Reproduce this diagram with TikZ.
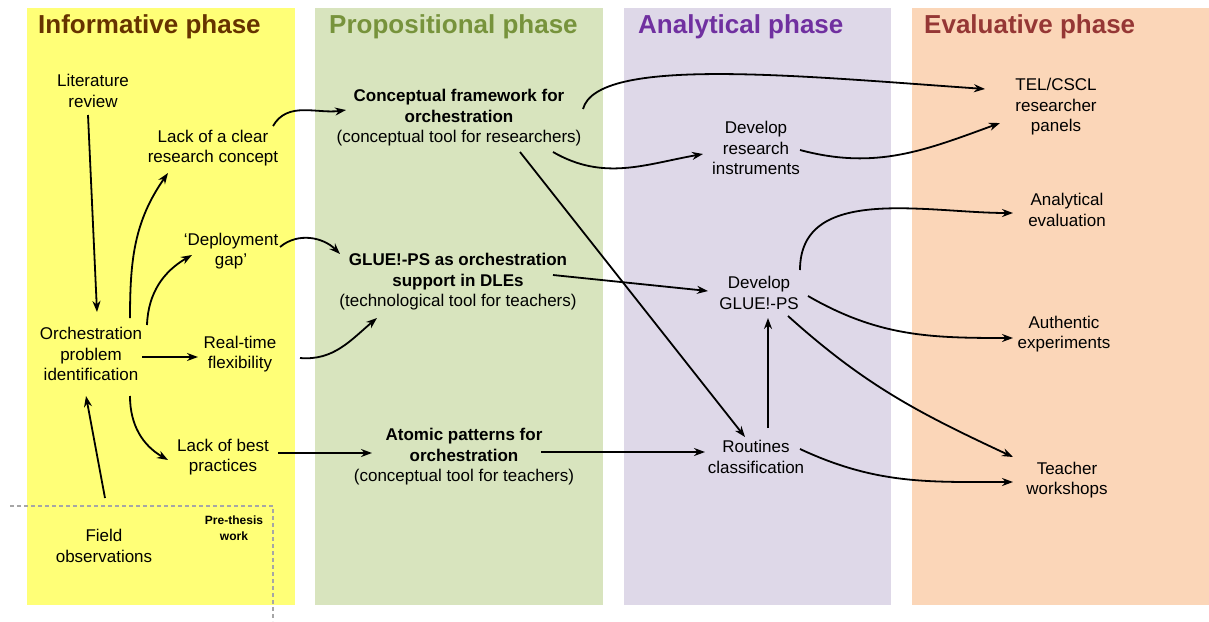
\documentclass[tikz,border=0pt]{standalone}
\usepackage{fontspec}
\setmainfont{Liberation Sans}
\usetikzlibrary{arrows.meta}
\definecolor{infobg}{RGB}{255,255,119}
\definecolor{propbg}{RGB}{216,228,190}
\definecolor{analbg}{RGB}{222,216,232}
\definecolor{evalbg}{RGB}{251,214,184}
\definecolor{infotitle}{RGB}{102,51,0}
\definecolor{proptitle}{RGB}{119,147,60}
\definecolor{analtitle}{RGB}{112,48,160}
\definecolor{evaltitle}{RGB}{149,55,53}
\begin{document}
\begin{tikzpicture}[x=1pt,y=-1pt,
  txt/.style={align=center,inner sep=0pt,font=\fontsize{17}{20.5}\selectfont},
  small/.style={align=center,inner sep=0pt,font=\fontsize{12}{16}\selectfont\bfseries},
  phase/.style={anchor=west,inner sep=0pt,font=\fontsize{26}{30}\selectfont\bfseries},
  arr/.style={line width=1.8pt,-{Stealth[length=11pt,width=8pt]}},
  sep/.style={gray!70,line width=1.1pt,dash pattern=on 4pt off 3pt}]
\useasboundingbox (0,0) rectangle (1209,621);

% phase columns
\fill[infobg] (27,8) rectangle (295,605);
\fill[propbg] (315,8) rectangle (603,605);
\fill[analbg] (624,8) rectangle (891,605);
\fill[evalbg] (912,8) rectangle (1209,605);

\node[phase,text=infotitle] (t1) at (38,27) {Informative phase};
\node[phase,text=proptitle] (t2) at (329,27) {Propositional phase};
\node[phase,text=analtitle] (t3) at (638,27) {Analytical phase};
\node[phase,text=evaltitle] (t4) at (924,27) {Evaluative phase};

% pre-thesis boundary
\coordinate (pa) at (10,506);
\coordinate (pb) at (273,506);
\coordinate (pc) at (273,621);
\draw[sep] (pa) -- (pb) -- (pc);
\node[small] (pre) at (234,528) {Pre-thesis\\work};

% informative phase
\node[txt] (lit) at (93,91) {Literature\\review};
\node[txt] (lack1) at (213,148) {Lack of a clear\\research concept};
\node[txt] (deploy) at (231,251) {`Deployment\\gap'};
\node[txt] (orch) at (91,354) {Orchestration\\problem\\identification};
\node[txt] (rtf) at (240,354) {Real-time\\flexibility};
\node[txt] (lbp) at (223,457) {Lack of best\\practices};
\node[txt] (field) at (104,546) {Field\\observations};

% propositional phase
\node[txt] (cf) at (459,118) {\textbf{Conceptual framework for}\\\textbf{orchestration}\\(conceptual tool for researchers)};
\node[txt] (glue) at (458,282) {\textbf{GLUE!-PS as orchestration}\\\textbf{support in DLEs}\\(technological tool for teachers)};
\node[txt] (atomic) at (464,457) {\textbf{Atomic patterns for}\\\textbf{orchestration}\\(conceptual tool for teachers)};

% analytical phase
\node[txt] (dri) at (756,148) {Develop\\research\\instruments};
\node[txt] (dglue) at (759,293) {Develop\\GLUE!-PS};
\node[txt] (rout) at (756,457) {Routines\\classification};

% evaluative phase
\node[txt] (tel) at (1056,107) {TEL/CSCL\\researcher\\panels};
\node[txt] (anev) at (1067,210) {Analytical\\evaluation};
\node[txt] (auth) at (1064,334) {Authentic\\experiments};
\node[txt] (teach) at (1067,480) {Teacher\\workshops};

% connectors
\draw[arr] ([shift={(-5,24)}]lit.center) -- ([shift={(6,-42)}]orch.center);
\draw[arr] ([shift={(39,-36)}]orch.center) to[out=90,in=235] ([shift={(-45,25)}]lack1.center);
\draw[arr] ([shift={(56,-29)}]orch.center) to[out=88,in=210] ([shift={(-39,4)}]deploy.center);
\draw[arr] ([shift={(51,3)}]orch.center) -- ([shift={(-42,3)}]rtf.center);
\draw[arr] ([shift={(39,42)}]orch.center) to[out=-90,in=150] ([shift={(-55,3)}]lbp.center);
\draw[arr] ([shift={(1,-48)}]field.center) -- ([shift={(-5,42)}]orch.center);

\draw[arr] ([shift={(60,-22)}]lack1.center) to[out=60,in=188] ([shift={(-113,-8)}]cf.center);
\draw[arr] ([shift={(49,-4)}]deploy.center) to[out=40,in=135] ([shift={(-118,-28)}]glue.center);
\draw[arr] ([shift={(60,4)}]rtf.center) to[out=-5,in=220] ([shift={(-81,36)}]glue.center);
\draw[arr] ([shift={(55,-4)}]lbp.center) -- ([shift={(-92,-4)}]atomic.center);

\draw[arr] ([shift={(124,-9)}]cf.center) to[out=75,in=176,out looseness=0.35,in looseness=1.2] ([shift={(-71,-18)}]tel.center);
\draw[arr] ([shift={(94,34)}]cf.center) to[out=-30,in=190] ([shift={(-53,6)}]dri.center);
\draw[arr] ([shift={(44,2)}]dri.center) to[out=-15,in=200] ([shift={(-56,16)}]tel.center);
\draw[arr] ([shift={(61,34)}]cf.center) -- ([shift={(-11,-20)}]rout.center);
\draw[arr] ([shift={(95,-7)}]glue.center) -- ([shift={(-51,-2)}]dglue.center);
\draw[arr] ([shift={(77,-5)}]atomic.center) -- ([shift={(-51,-5)}]rout.center);
\draw[arr] ([shift={(12,-29)}]rout.center) -- ([shift={(9,25)}]dglue.center);

\draw[arr] ([shift={(41,-23)}]dglue.center) to[out=90,in=180] ([shift={(-54,3)}]anev.center);
\draw[arr] ([shift={(49,3)}]dglue.center) to[out=-30,in=180] ([shift={(-51,4)}]auth.center);
\draw[arr] ([shift={(29,23)}]dglue.center) to[out=-42,in=155] ([shift={(-54,-23)}]teach.center);
\draw[arr] ([shift={(44,-8)}]rout.center) to[out=-25,in=180] ([shift={(-54,2)}]teach.center);
\end{tikzpicture}
\end{document}
